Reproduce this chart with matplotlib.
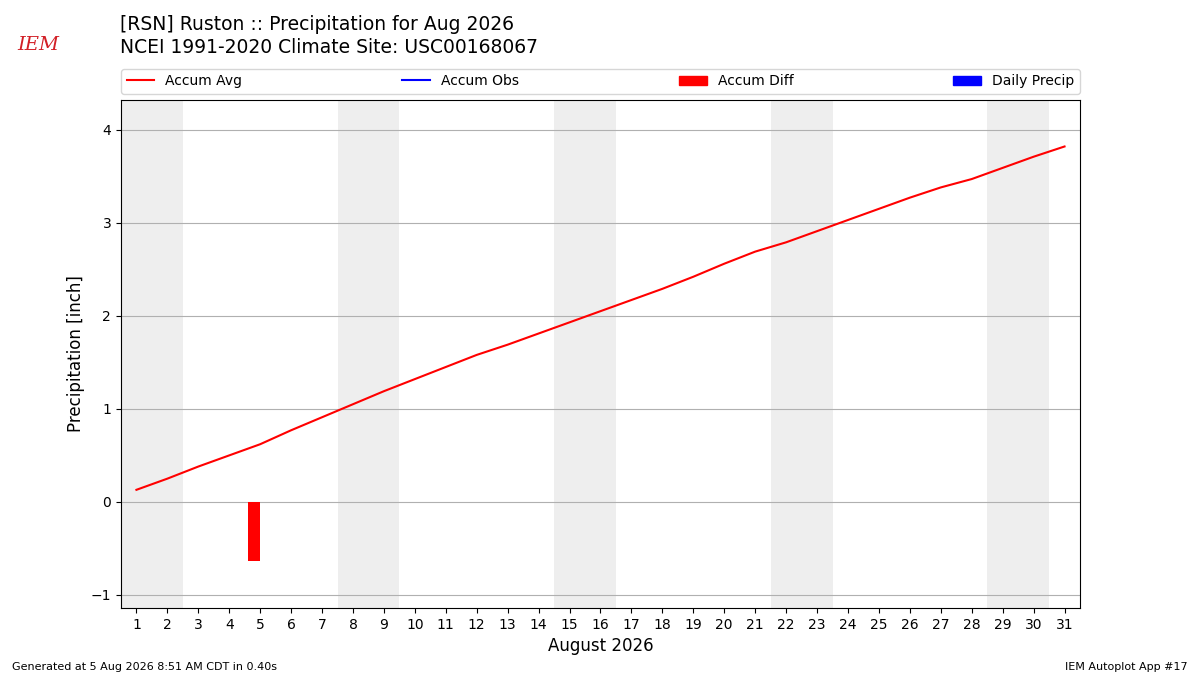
import matplotlib
matplotlib.use("Agg")
import matplotlib.pyplot as plt
from matplotlib.lines import Line2D
from matplotlib.patches import Patch
import numpy as np

days = list(range(1, 32))
accum_avg = [0.13, 0.25, 0.38, 0.50, 0.62, 0.77, 0.91, 1.05, 1.19, 1.32,
             1.45, 1.58, 1.69, 1.81, 1.93, 2.05, 2.17, 2.29, 2.42, 2.56,
             2.69, 2.79, 2.91, 3.03, 3.15, 3.27, 3.38, 3.47, 3.59, 3.71,
             3.82]
diff_days = [5]
accum_diff = [-0.63]
weekend_starts = [1, 8, 15, 22, 29]

fig = plt.figure(figsize=(12, 6.75), dpi=100)
ax = fig.add_axes([0.1008, 0.0993, 0.7992, 0.7526])

for d in weekend_starts:
    ax.axvspan(d - 0.5, d + 1.5, color="#eeeeee", zorder=0, lw=0)

ax.plot(days, accum_avg, color="r", lw=1.5, zorder=3)
ax.bar(diff_days, accum_diff, width=-0.4, align="edge", color="r", zorder=3)

ax.set_xlim(0.5, 31.5)
ax.set_ylim(-1.14, 4.32)
ax.set_xticks(days)
ax.set_yticks([-1, 0, 1, 2, 3, 4])
ax.yaxis.grid(True, color="#b0b0b0", lw=0.8)
ax.set_axisbelow(True)
ax.set_xlabel("August 2026", fontsize=12)
ax.set_ylabel("Precipitation [inch]", fontsize=12)

handles = [Line2D([], [], color="r"), Line2D([], [], color="b"),
           Patch(color="r"), Patch(color="b")]
labels = ["Accum Avg", "Accum Obs", "Accum Diff", "Daily Precip"]
ax.legend(handles, labels, loc="lower left", ncol=4, mode="expand",
          bbox_to_anchor=(0, 1.012, 1, 0.05), borderaxespad=0, fontsize=10)

fig.text(0.1, 0.9644, "[RSN] Ruston :: Precipitation for Aug 2026", fontsize=13.5, va="center")
fig.text(0.1, 0.930, "NCEI 1991-2020 Climate Site: USC00168067", fontsize=13.5, va="center")

# rough stand-in for the IEM logo
fig.text(0.032, 0.933, "IEM", color="#d21f26", fontsize=14, style="italic",
         family="DejaVu Serif", ha="center", va="center")

fig.text(0.01, 0.008, "Generated at 5 Aug 2026 8:51 AM CDT in 0.40s", fontsize=8)
fig.text(0.99, 0.008, "IEM Autoplot App #17", fontsize=8, ha="right")

fig.savefig("out.png", dpi=100)
